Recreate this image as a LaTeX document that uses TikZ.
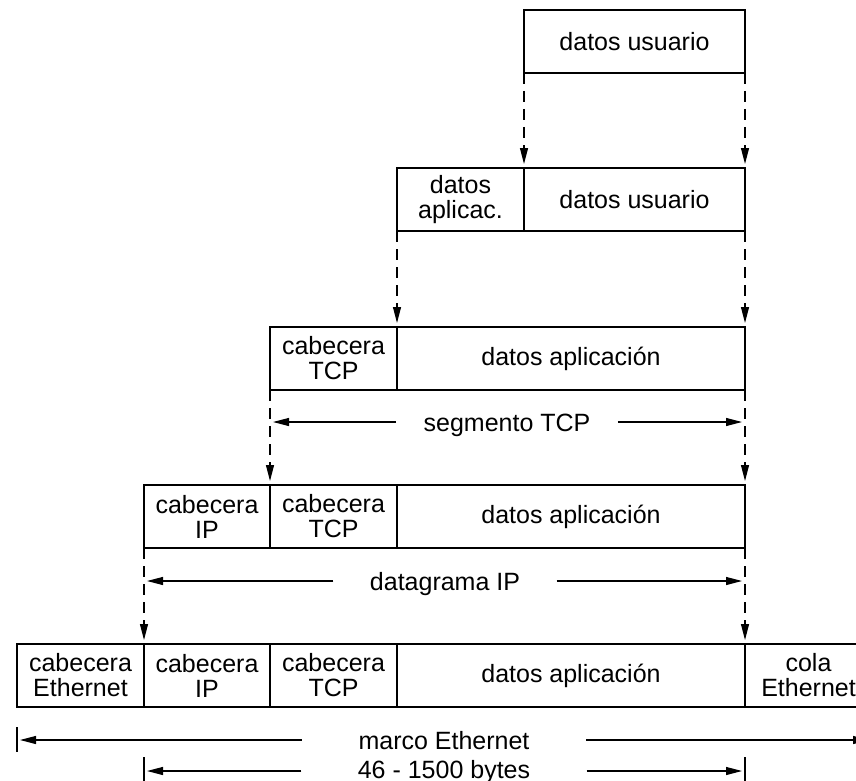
\documentclass[tikz,border=0pt]{standalone}
\usepackage{fontspec}
\setmainfont{Liberation Sans}
\usetikzlibrary{arrows.meta}
\begin{document}
\begin{tikzpicture}[x=1pt,y=-1pt,line width=1.1pt,
  txt/.style={font=\fontsize{25}{25}\selectfont},
  cell/.style={txt,draw,minimum height=63pt,inner sep=0pt,outer sep=0pt,align=center},
  conn/.style={dash pattern=on 11pt off 7pt,-{Triangle[length=16pt,width=8pt]},shorten >=4pt},
  dimarrow/.style={-{Triangle[length=16pt,width=8pt]},shorten >=3pt},
  dimlbl/.style={txt,anchor=base,inner ysep=0pt}]
\clip (0,0) rectangle (856,781);
% row 1
\node[cell,minimum width=221pt] (r1) at (634.5,41.5) {datos usuario};
% row 2
\node[cell,minimum width=127pt] (r2a) at (460.5,199.5) {datos\\aplicac.};
\node[cell,minimum width=221pt] (r2b) at (634.5,199.5) {datos usuario};
% row 3
\node[cell,minimum width=127pt] (r3a) at (333.5,358.5) {cabecera\\TCP};
\node[cell,minimum width=348pt] (r3b) at (571,358.5) {datos aplicación};
% row 4
\node[cell,minimum width=126pt] (r4a) at (207,516.5) {cabecera\\IP};
\node[cell,minimum width=127pt] (r4b) at (333.5,516.5) {cabecera\\TCP};
\node[cell,minimum width=348pt] (r4c) at (571,516.5) {datos aplicación};
% row 5
\node[cell,minimum width=127pt] (r5a) at (80.5,675.5) {cabecera\\Ethernet};
\node[cell,minimum width=126pt] (r5b) at (207,675.5) {cabecera\\IP};
\node[cell,minimum width=127pt] (r5c) at (333.5,675.5) {cabecera\\TCP};
\node[cell,minimum width=348pt] (r5d) at (571,675.5) {datos aplicación};
\node[cell,minimum width=127pt] (r5e) at (808.5,675.5) {cola\\Ethernet};
% vertical connectors
\draw[conn] (r1.south west) -- (r2b.north west);
\draw[conn] (r1.south east) -- (r2b.north east);
\draw[conn] (r2a.south west) -- (r3b.north west);
\draw[conn] (r2b.south east) -- (r3b.north east);
\draw[conn] (r3a.south west) -- (r4b.north west);
\draw[conn] (r3b.south east) -- (r4c.north east);
\draw[conn] (r4a.south west) -- (r5b.north west);
\draw[conn] (r4c.south east) -- (r5d.north east);
% segmento TCP
\coordinate (segL) at (270,422);
\coordinate (segR) at (745,422);
\node[dimlbl,inner xsep=27pt] (seg) at (507,431) {segmento TCP};
\draw[dimarrow] (seg.west |- segL) -- (segL);
\draw[dimarrow] (seg.east |- segR) -- (segR);
% datagrama IP
\coordinate (datL) at (144,581);
\coordinate (datR) at (745,581);
\node[dimlbl,inner xsep=36pt] (dat) at (445,590) {datagrama IP};
\draw[dimarrow] (dat.west |- datL) -- (datL);
\draw[dimarrow] (dat.east |- datR) -- (datR);
% marco Ethernet
\coordinate (marL) at (17,740);
\coordinate (marR) at (872,740);
\coordinate (marT1) at (17,727);
\coordinate (marT2) at (17,752);
\draw (marT1) -- (marT2);
\node[dimlbl,inner xsep=56pt] (mar) at (444,749) {marco Ethernet};
\draw[dimarrow] (mar.west |- marL) -- (marL);
\draw[dimarrow] (mar.east |- marR) -- (marR);
% 46 - 1500 bytes
\coordinate (byL) at (144,771);
\coordinate (byR) at (745,771);
\coordinate (byT1) at (144,757);
\coordinate (byT2) at (144,790);
\coordinate (byT3) at (745,757);
\coordinate (byT4) at (745,790);
\draw (byT1) -- (byT2);
\draw (byT3) -- (byT4);
\node[dimlbl,inner xsep=56pt] (by) at (444,778) {46 - 1500 bytes};
\draw[dimarrow] (by.west |- byL) -- (byL);
\draw[dimarrow] (by.east |- byR) -- (byR);
\end{tikzpicture}
\end{document}
